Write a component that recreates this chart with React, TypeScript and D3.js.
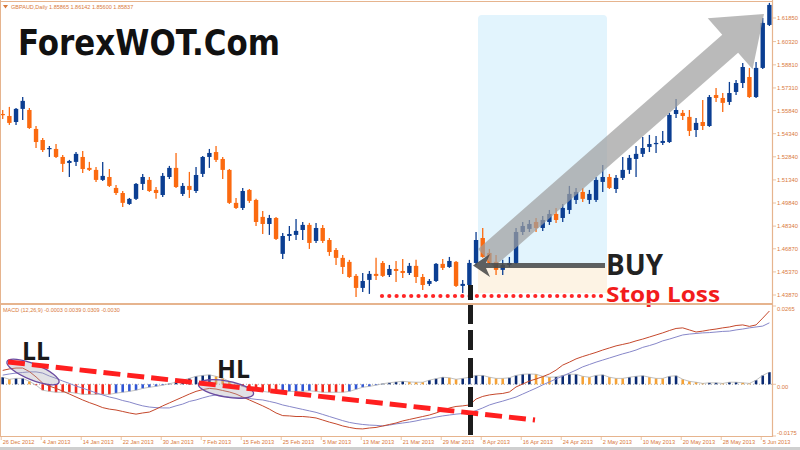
import React from "react";
import * as d3 from "d3";

const dateLabels = ["26 Dec 2012","4 Jan 2013","14 Jan 2013","22 Jan 2013","30 Jan 2013","7 Feb 2013","15 Feb 2013","25 Feb 2013","5 Mar 2013","13 Mar 2013","21 Mar 2013","29 Mar 2013","8 Apr 2013","16 Apr 2013","24 Apr 2013","2 May 2013","10 May 2013","20 May 2013","28 May 2013","5 Jun 2013"];
const priceTicks = ["1.61850","1.60320","1.58810","1.57310","1.55840","1.54340","1.52840","1.51340","1.49840","1.48340","1.46870","1.45370","1.43870"];
const macdTicks = ["0.0265","0.00","-0.0175"];

const open = [1.5562,1.5549,1.5510,1.5595,1.5588,1.5465,1.5393,1.5335,1.5335,1.5283,1.5244,1.5251,1.5283,1.5212,1.5199,1.5134,1.5153,1.5082,1.5049,1.4978,1.5011,1.5108,1.5134,1.5069,1.5036,1.5153,1.5212,1.5043,1.5095,1.5062,1.5173,1.5283,1.5315,1.5270,1.5199,1.4985,1.4952,1.5069,1.5004,1.4894,1.4848,1.4887,1.4654,1.4770,1.4777,1.4809,1.4842,1.4738,1.4822,1.4744,1.4679,1.4628,1.4602,1.4511,1.4433,1.4485,1.4524,1.4595,1.4517,1.4556,1.4543,1.4530,1.4576,1.4504,1.4459,1.4478,1.4589,1.4569,1.4602,1.4446,1.4452,1.4595,1.4757,1.4660,1.4602,1.4550,1.4582,1.4595,1.4796,1.4816,1.4861,1.4822,1.4861,1.4913,1.4887,1.4939,1.5004,1.5056,1.5004,1.5004,1.5121,1.5153,1.5075,1.5147,1.5199,1.5270,1.5303,1.5348,1.5367,1.5374,1.5380,1.5562,1.5569,1.5543,1.5458,1.5510,1.5484,1.5685,1.5666,1.5640,1.5705,1.5763,1.5802,1.5672,1.5861,1.6140];
const high = [1.5588,1.5608,1.5601,1.5672,1.5601,1.5484,1.5406,1.5354,1.5367,1.5296,1.5264,1.5315,1.5322,1.5251,1.5218,1.5251,1.5205,1.5101,1.5062,1.5017,1.5114,1.5173,1.5153,1.5088,1.5179,1.5225,1.5309,1.5114,1.5186,1.5218,1.5290,1.5335,1.5354,1.5283,1.5205,1.5017,1.5082,1.5075,1.5011,1.4933,1.4907,1.4894,1.4790,1.4835,1.4881,1.4861,1.4855,1.4855,1.4842,1.4757,1.4692,1.4647,1.4615,1.4524,1.4530,1.4543,1.4628,1.4608,1.4582,1.4608,1.4621,1.4595,1.4615,1.4524,1.4491,1.4595,1.4621,1.4634,1.4608,1.4485,1.4615,1.4796,1.4822,1.4686,1.4647,1.4615,1.4634,1.4822,1.4861,1.4874,1.4887,1.4900,1.4939,1.4952,1.4978,1.5095,1.5082,1.5082,1.5069,1.5153,1.5231,1.5173,1.5166,1.5283,1.5296,1.5354,1.5413,1.5426,1.5419,1.5452,1.5569,1.5660,1.5588,1.5588,1.5536,1.5653,1.5685,1.5731,1.5698,1.5770,1.5783,1.5893,1.5861,1.5900,1.6185,1.6283];
const low = [1.5530,1.5491,1.5491,1.5523,1.5465,1.5341,1.5315,1.5283,1.5277,1.5186,1.5153,1.5225,1.5179,1.5192,1.5121,1.5127,1.5088,1.5036,1.4959,1.4972,1.5004,1.5069,1.5056,1.5011,1.5023,1.5140,1.5082,1.5030,1.5017,1.5049,1.5153,1.5212,1.5251,1.5140,1.4978,1.4946,1.4939,1.4985,1.4835,1.4783,1.4777,1.4744,1.4621,1.4738,1.4744,1.4744,1.4686,1.4725,1.4725,1.4641,1.4582,1.4524,1.4498,1.4374,1.4407,1.4394,1.4485,1.4504,1.4504,1.4472,1.4498,1.4517,1.4465,1.4420,1.4446,1.4472,1.4550,1.4563,1.4439,1.4400,1.4439,1.4582,1.4628,1.4589,1.4517,1.4517,1.4569,1.4589,1.4777,1.4796,1.4796,1.4803,1.4842,1.4855,1.4861,1.4913,1.4978,1.4991,1.4978,1.4991,1.5056,1.5075,1.5049,1.5134,1.5173,1.5153,1.5283,1.5315,1.5309,1.5361,1.5374,1.5536,1.5523,1.5419,1.5413,1.5458,1.5478,1.5640,1.5575,1.5621,1.5685,1.5731,1.5666,1.5666,1.5854,1.6133];
const close = [1.5556,1.5504,1.5595,1.5647,1.5471,1.5380,1.5328,1.5341,1.5283,1.5238,1.5257,1.5303,1.5205,1.5199,1.5134,1.5160,1.5095,1.5049,1.4985,1.5011,1.5108,1.5153,1.5062,1.5049,1.5160,1.5212,1.5088,1.5095,1.5069,1.5166,1.5283,1.5309,1.5264,1.5199,1.4985,1.4952,1.5062,1.4998,1.4861,1.4848,1.4887,1.4751,1.4770,1.4783,1.4803,1.4842,1.4725,1.4822,1.4738,1.4666,1.4628,1.4569,1.4504,1.4433,1.4478,1.4524,1.4511,1.4511,1.4556,1.4543,1.4530,1.4576,1.4504,1.4452,1.4478,1.4589,1.4563,1.4608,1.4446,1.4459,1.4595,1.4744,1.4634,1.4595,1.4550,1.4582,1.4595,1.4796,1.4835,1.4848,1.4822,1.4874,1.4913,1.4874,1.4952,1.5043,1.5056,1.5011,1.5043,1.5134,1.5153,1.5082,1.5147,1.5199,1.5277,1.5303,1.5341,1.5367,1.5374,1.5387,1.5556,1.5588,1.5549,1.5452,1.5504,1.5484,1.5672,1.5666,1.5634,1.5698,1.5763,1.5867,1.5672,1.5861,1.6153,1.6270];

const macd = [0.0047,0.0052,0.0055,0.0055,0.0043,0.0025,0.0004,-0.0006,-0.0014,-0.0023,-0.0033,-0.0043,-0.0053,-0.0062,-0.0070,-0.0079,-0.0084,-0.0087,-0.0092,-0.0097,-0.0101,-0.0097,-0.0094,-0.0084,-0.0073,-0.0063,-0.0053,-0.0043,-0.0033,-0.0024,-0.0018,-0.0014,-0.0016,-0.0021,-0.0026,-0.0033,-0.0043,-0.0053,-0.0063,-0.0073,-0.0084,-0.0097,-0.0106,-0.0107,-0.0109,-0.0109,-0.0111,-0.0114,-0.0121,-0.0128,-0.0134,-0.0141,-0.0146,-0.0150,-0.0151,-0.0148,-0.0146,-0.0141,-0.0136,-0.0131,-0.0124,-0.0119,-0.0114,-0.0109,-0.0104,-0.0097,-0.0089,-0.0080,-0.0075,-0.0073,-0.0070,-0.0050,-0.0041,-0.0036,-0.0033,-0.0031,-0.0026,-0.0009,0.0001,0.0011,0.0018,0.0026,0.0035,0.0048,0.0065,0.0075,0.0086,0.0094,0.0101,0.0108,0.0116,0.0123,0.0130,0.0135,0.0140,0.0147,0.0153,0.0160,0.0167,0.0174,0.0182,0.0189,0.0191,0.0184,0.0177,0.0180,0.0184,0.0187,0.0191,0.0194,0.0199,0.0201,0.0196,0.0201,0.0224,0.0248];
const signal = [0.0031,0.0035,0.0038,0.0040,0.0042,0.0042,0.0038,0.0028,0.0020,0.0011,0.0003,-0.0006,-0.0013,-0.0021,-0.0029,-0.0036,-0.0043,-0.0048,-0.0055,-0.0060,-0.0067,-0.0073,-0.0077,-0.0079,-0.0080,-0.0080,-0.0073,-0.0067,-0.0058,-0.0053,-0.0046,-0.0040,-0.0036,-0.0040,-0.0043,-0.0045,-0.0046,-0.0048,-0.0051,-0.0053,-0.0058,-0.0063,-0.0070,-0.0075,-0.0080,-0.0085,-0.0090,-0.0095,-0.0102,-0.0109,-0.0116,-0.0123,-0.0129,-0.0133,-0.0136,-0.0138,-0.0139,-0.0141,-0.0138,-0.0134,-0.0131,-0.0128,-0.0124,-0.0119,-0.0116,-0.0111,-0.0107,-0.0104,-0.0101,-0.0099,-0.0097,-0.0089,-0.0080,-0.0070,-0.0063,-0.0057,-0.0050,-0.0043,-0.0033,-0.0023,-0.0013,-0.0002,0.0008,0.0018,0.0028,0.0038,0.0048,0.0059,0.0067,0.0075,0.0082,0.0089,0.0096,0.0103,0.0109,0.0116,0.0125,0.0131,0.0138,0.0147,0.0153,0.0160,0.0167,0.0170,0.0172,0.0174,0.0175,0.0177,0.0179,0.0180,0.0184,0.0187,0.0191,0.0194,0.0197,0.0208];
const hist = [0.0024,0.0017,0.0020,0.0020,0.0010,-0.0003,-0.0020,-0.0024,-0.0027,-0.0027,-0.0027,-0.0030,-0.0034,-0.0034,-0.0034,-0.0034,-0.0034,-0.0030,-0.0027,-0.0024,-0.0020,-0.0014,-0.0010,-0.0007,-0.0003,0.0002,0.0007,0.0014,0.0020,0.0027,0.0030,0.0032,0.0027,0.0020,0.0010,0.0002,-0.0007,-0.0014,-0.0020,-0.0024,-0.0027,-0.0029,-0.0027,-0.0024,-0.0024,-0.0024,-0.0022,-0.0024,-0.0027,-0.0027,-0.0027,-0.0027,-0.0024,-0.0017,-0.0010,-0.0007,-0.0003,0.0002,0.0005,0.0008,0.0010,0.0008,0.0007,0.0007,0.0014,0.0019,0.0024,0.0022,0.0017,0.0020,0.0024,0.0030,0.0030,0.0024,0.0020,0.0020,0.0022,0.0030,0.0034,0.0035,0.0034,0.0027,0.0024,0.0025,0.0030,0.0034,0.0034,0.0027,0.0024,0.0030,0.0032,0.0024,0.0020,0.0020,0.0024,0.0027,0.0029,0.0024,0.0020,0.0020,0.0027,0.0029,0.0017,0.0010,0.0007,0.0003,0.0005,0.0005,0.0003,0.0007,0.0007,0.0005,0.0003,0.0014,0.0030,0.0041];

const BLUE = "#0b3e92";
const ORANGE = "#fb6a10";
const AXIS = "#e6b48e";
const LABEL = "#d97a3c";
const SMALL = "'Liberation Sans', Arial, sans-serif";

export default function App() {
  const n = open.length;
  const x = d3.scaleLinear().domain([0, n - 1]).range([2.7, 769.4]);
  const y = d3.scaleLinear().domain([1.4387, 1.6185]).range([295, 18]);
  const ym = d3.scaleLinear().domain([-0.0175, 0.0265]).range([436, 306]);
  const idx = d3.range(n);

  const macdLine = d3.line<number>().x((i) => x(i)).y((i) => ym(macd[i]));
  const sigLine = d3.line<number>().x((i) => x(i)).y((i) => ym(signal[i]));
  const histLine = d3.line<number>().x((i) => x(i)).y((i) => ym(hist[i]));

  // histogram colours
  const histColors: string[] = [];
  let rising = true;
  idx.forEach((i) => {
    if (i > 0) {
      if (hist[i] > hist[i - 1]) rising = true;
      else if (hist[i] < hist[i - 1]) rising = false;
    }
    if (hist[i] >= 0) histColors.push(rising ? "#0a2a72" : "#f5a236");
    else histColors.push(rising ? "#2f55d4" : "#f4261a");
  });

  // big gray arrow geometry
  const S = [486, 258], T = [764, 14];
  const L = Math.hypot(T[0] - S[0], T[1] - S[1]);
  const d = [(T[0] - S[0]) / L, (T[1] - S[1]) / L];
  const nv = [-d[1], d[0]];
  const hb = [T[0] - 45 * d[0], T[1] - 45 * d[1]];
  const sw = 12, hw = 34;
  const pt = (p: number[], k: number) => `${p[0] + nv[0] * k},${p[1] + nv[1] * k}`;
  const bigArrow = [pt(S, sw), pt(hb, sw), pt(hb, hw), `${T[0]},${T[1]}`, pt(hb, -hw), pt(hb, -sw), pt(S, -sw)].join(" ");

  const dots = d3.range(382, 603, 7.3);
  const zeroY = ym(0);

  return (
    <svg width={800} height={450} style={{ position: "absolute", left: 0, top: 0, background: "#fff" }}>
      <rect x={0} y={0} width={800} height={450} fill="#ffffff" />
      {/* highlight boxes */}
      <rect x={478} y={15} width={129} height={260} rx={4} fill="#e2f4fd" />
      <rect x={478} y={267} width={129} height={26} fill="#fdf3e4" />

      {/* candles */}
      {idx.map((i) => {
        const up = close[i] >= open[i];
        const c = up ? BLUE : ORANGE;
        const top = y(Math.max(open[i], close[i]));
        const bot = y(Math.min(open[i], close[i]));
        return (
          <g key={i}>
            <line x1={x(i)} x2={x(i)} y1={y(high[i])} y2={y(low[i])} stroke={c} strokeWidth={1.3} />
            <rect x={x(i) - 2.2} y={top} width={4.4} height={Math.max(1.2, bot - top)} fill={c} />
          </g>
        );
      })}

      {/* big arrow */}
      <polygon points={bigArrow} fill="#a0a0a0" opacity={0.72} />
      {/* BUY arrow */}
      <polygon points="473,265.5 490,254 486,263 605,263 605,268 486,268 490,277" fill="#4a4a4a" opacity={0.88} />

      {/* stop loss dots */}
      {dots.map((dx, k) => (
        <circle key={k} cx={dx} cy={296} r={2.1} fill="#ff2525" />
      ))}
      <text x={606} y={275} fontFamily="'Open Sans', sans-serif" fontWeight={700} fontSize={28} fill="#222" textLength={57} lengthAdjust="spacingAndGlyphs">BUY</text>
      <text x={606} y={302} fontFamily="'Open Sans', sans-serif" fontWeight={700} fontSize={21} fill="#f21c1c" textLength={114} lengthAdjust="spacingAndGlyphs">Stop Loss</text>

      {/* title */}
      <text x={18} y={55} fontFamily="'DejaVu Sans', sans-serif" fontWeight={700} fontSize={36} fill="#111" textLength={262} lengthAdjust="spacingAndGlyphs">ForexWOT.Com</text>
      <path d="M3,5 L8,5 L5.5,8.5 Z" fill={LABEL} />
      <text x={11} y={9} fontFamily={SMALL} fontSize={5.5} fill={LABEL}>GBPAUD,Daily  1.85865 1.86142 1.85600 1.85837</text>

      {/* MACD panel */}
      <text x={3} y={312} fontFamily={SMALL} fontSize={5.5} fill={LABEL}>MACD (12,26,9) -0.0003 0.0039 0.0309 -0.0030</text>
      <line x1={0} x2={772} y1={zeroY} y2={zeroY} stroke="#9a9a9a" strokeWidth={0.8} strokeDasharray="1 2" />
      {idx.map((i) => (
        <line key={i} x1={x(i)} x2={x(i)} y1={zeroY} y2={ym(hist[i])} stroke={histColors[i]} strokeWidth={2.6} />
      ))}
      <path d={histLine(idx) || ""} fill="none" stroke="#a8a8a8" strokeWidth={0.7} />
      <path d={sigLine(idx) || ""} fill="none" stroke="#8787c9" strokeWidth={1} />
      <path d={macdLine(idx) || ""} fill="none" stroke="#c5482c" strokeWidth={1} />

      <ellipse cx={33} cy={372} rx={28} ry={8} transform="rotate(22 33 372)" fill="rgba(170,170,180,0.35)" stroke="#6a4aa0" strokeWidth={1.3} />
      <ellipse cx={226} cy={389} rx={28} ry={8} transform="rotate(10 226 389)" fill="rgba(170,170,180,0.35)" stroke="#6a4aa0" strokeWidth={1.3} />
      <line x1={8} y1={362} x2={535} y2={420} stroke="#ff1f1f" strokeWidth={5} strokeDasharray="17 7" />
      <text x={22} y={360} fontFamily="'Open Sans', sans-serif" fontWeight={700} fontSize={25} fill="#1a1a1a" textLength={28} lengthAdjust="spacingAndGlyphs">LL</text>
      <text x={217} y={378} fontFamily="'Open Sans', sans-serif" fontWeight={700} fontSize={25} fill="#1a1a1a" textLength={33} lengthAdjust="spacingAndGlyphs">HL</text>

      {/* vertical black dashed */}
      <line x1={470.5} x2={470.5} y1={285} y2={436} stroke="#1c1c1c" strokeWidth={5} strokeDasharray="15 4 20 6 20 8 20 9 20 8 20" />

      {/* frame */}
      <line x1={0.5} x2={0.5} y1={0} y2={437} stroke={AXIS} strokeWidth={1} />
      <line x1={0} x2={773} y1={1.5} y2={1.5} stroke={AXIS} strokeWidth={1.2} />
      <line x1={0} x2={773} y1={304} y2={304} stroke={AXIS} strokeWidth={2} />
      <line x1={772.5} x2={772.5} y1={0} y2={437} stroke={AXIS} strokeWidth={1.2} />
      <line x1={0} x2={773} y1={436.5} y2={436.5} stroke={AXIS} strokeWidth={1} />
      <rect x={0} y={447} width={800} height={3} fill="#cfcfcf" />

      {/* price axis */}
      {priceTicks.map((t) => {
        const ty = y(+t);
        return (
          <g key={t}>
            <line x1={772} x2={776} y1={ty} y2={ty} stroke={AXIS} strokeWidth={0.8} />
            <text x={777} y={ty + 2} fontFamily={SMALL} fontSize={5.8} fill={LABEL}>{t}</text>
          </g>
        );
      })}
      {/* macd axis */}
      {macdTicks.map((t, k) => {
        const ty = ym(+t) + (k === 0 ? 3 : k === 1 ? 3 : -3);
        return (
          <g key={t}>
            <line x1={772} x2={776} y1={ym(+t)} y2={ym(+t)} stroke={AXIS} strokeWidth={0.8} />
            <text x={777} y={ty + 2} fontFamily={SMALL} fontSize={5.8} fill={LABEL}>{t}</text>
          </g>
        );
      })}
      {/* date axis */}
      {dateLabels.map((t, k) => {
        const tx = x(k * 6) - 1.5;
        return (
          <g key={t}>
            <line x1={tx} x2={tx} y1={436.5} y2={440} stroke={AXIS} strokeWidth={0.8} />
            <text x={tx + 1.5} y={444} fontFamily={SMALL} fontSize={5.6} fill={LABEL}>{t}</text>
          </g>
        );
      })}
    </svg>
  );
}
